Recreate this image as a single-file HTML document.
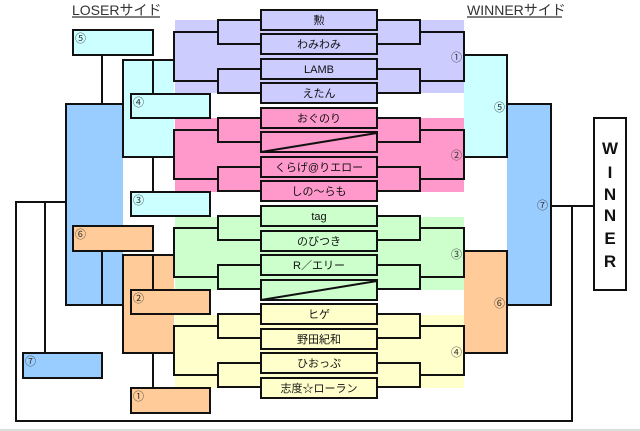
<!DOCTYPE html>
<html><head><meta charset="utf-8"><style>
html,body{margin:0;padding:0;background:#fff;width:640px;height:431px;overflow:hidden}
svg{display:block}
text{font-family:"Liberation Sans","Noto Sans CJK JP",sans-serif}
</style></head><body>
<svg width="640" height="431" viewBox="0 0 640 431" xmlns="http://www.w3.org/2000/svg">
<rect x="175" y="20" width="289" height="73" fill="#ccccff"/>
<rect x="175" y="118" width="289" height="74" fill="#ff99cc"/>
<rect x="175" y="217" width="289" height="73" fill="#ccffcc"/>
<rect x="175" y="315" width="289" height="73" fill="#ffffcc"/>
<rect x="66" y="104" width="57" height="201" fill="#99ccff"/>
<rect x="123" y="60" width="51" height="97" fill="#ccffff"/>
<rect x="123" y="255" width="51" height="98" fill="#ffcc99"/>
<rect x="464" y="55" width="43" height="102" fill="#ccffff"/>
<rect x="464" y="251" width="43" height="102" fill="#ffcc99"/>
<rect x="507" y="104" width="44" height="201" fill="#99ccff"/>
<g stroke="#111" stroke-width="2" fill="none">
<polyline points="123,104 66,104 66,305 123,305"/>
<line x1="102" y1="55" x2="102" y2="104"/>
<line x1="102" y1="251" x2="102" y2="305"/>
<polyline points="174,60 123,60 123,157 174,157"/>
<line x1="153" y1="60" x2="153" y2="94"/>
<line x1="153" y1="157" x2="153" y2="192"/>
<polyline points="174,255 123,255 123,353 174,353"/>
<line x1="153" y1="255" x2="153" y2="290"/>
<line x1="153" y1="353" x2="153" y2="388"/>
<polyline points="464,55 507,55 507,157 464,157"/>
<polyline points="464,251 507,251 507,353 464,353"/>
<polyline points="507,104 551,104 551,305 507,305"/>
<line x1="551" y1="206" x2="594" y2="206"/>
<polyline points="572,206 572,421 16,421 16,202 66,202"/>
<line x1="45" y1="202" x2="45" y2="353"/>
<g id="br">
<polyline points="261,20 218,20 218,44 261,44"/>
<polyline points="261,69 218,69 218,93 261,93"/>
<polyline points="218,32 174,32 174,81 218,81"/>
<polyline points="377,20 420,20 420,44 377,44"/>
<polyline points="377,69 420,69 420,93 377,93"/>
<polyline points="420,32 464,32 464,81 420,81"/>
</g>
<use href="#br" y="98"/>
<use href="#br" y="196"/>
<use href="#br" y="294"/>
</g>
<g stroke="#111" stroke-width="2">
<rect x="261" y="10" width="116" height="20" fill="#ccccff"/>
<rect x="261" y="34" width="116" height="20" fill="#ccccff"/>
<rect x="261" y="59" width="116" height="20" fill="#ccccff"/>
<rect x="261" y="83" width="116" height="20" fill="#ccccff"/>
<rect x="261" y="108" width="116" height="20" fill="#ff99cc"/>
<rect x="261" y="132" width="116" height="20" fill="#ff99cc"/>
<rect x="261" y="157" width="116" height="20" fill="#ff99cc"/>
<rect x="261" y="181" width="116" height="20" fill="#ff99cc"/>
<rect x="261" y="206" width="116" height="20" fill="#ccffcc"/>
<rect x="261" y="231" width="116" height="20" fill="#ccffcc"/>
<rect x="261" y="255" width="116" height="20" fill="#ccffcc"/>
<rect x="261" y="280" width="116" height="20" fill="#ccffcc"/>
<rect x="261" y="304" width="116" height="20" fill="#ffffcc"/>
<rect x="261" y="329" width="116" height="20" fill="#ffffcc"/>
<rect x="261" y="353" width="116" height="20" fill="#ffffcc"/>
<rect x="261" y="378" width="116" height="20" fill="#ffffcc"/>
<line x1="261" y1="152" x2="377" y2="133"/>
<line x1="261" y1="300" x2="377" y2="281"/>
<rect x="73" y="30" width="80" height="25" fill="#ccffff"/>
<rect x="131" y="94" width="79" height="24" fill="#ccffff"/>
<rect x="131" y="192" width="79" height="24" fill="#ccffff"/>
<rect x="73" y="226" width="80" height="25" fill="#ffcc99"/>
<rect x="131" y="290" width="79" height="24" fill="#ffcc99"/>
<rect x="131" y="388" width="79" height="25" fill="#ffcc99"/>
<rect x="23" y="353" width="79" height="25" fill="#99ccff"/>
<rect x="594" y="118" width="32" height="172" fill="#fff"/>
</g>
<g font-size="11" text-anchor="middle" fill="#111">
<text x="319" y="24">勲</text>
<text x="319" y="48">わみわみ</text>
<text x="319" y="73">LAMB</text>
<text x="319" y="97">えたん</text>
<text x="319" y="122">おぐのり</text>
<text x="319" y="171">くらげ@りエロー</text>
<text x="319" y="195">しの～らも</text>
<text x="319" y="220">tag</text>
<text x="319" y="245">のびつき</text>
<text x="319" y="269">R／エリー</text>
<text x="319" y="318">ヒゲ</text>
<text x="319" y="343">野田紀和</text>
<text x="319" y="367">ひおっぷ</text>
<text x="319" y="392">志度☆ローラン</text>
</g>
<g font-size="11" fill="#333">
<text x="75" y="42">⑤</text>
<text x="133" y="106">④</text>
<text x="133" y="204">③</text>
<text x="75" y="238">⑥</text>
<text x="133" y="302">②</text>
<text x="133" y="400">①</text>
<text x="25" y="365">⑦</text>
<text x="451" y="61">①</text>
<text x="451" y="159">②</text>
<text x="451" y="258">③</text>
<text x="451" y="356">④</text>
<text x="494" y="111">⑤</text>
<text x="494" y="307">⑥</text>
<text x="537" y="209">⑦</text>
</g>
<g font-size="14" fill="#333">
<text x="72" y="15">LOSERサイド</text>
<text x="467" y="15">WINNERサイド</text>
</g>
<line x1="72" y1="17" x2="160" y2="17" stroke="#555" stroke-width="1.5"/>
<line x1="467" y1="17" x2="562" y2="17" stroke="#555" stroke-width="1.5"/>
<g font-size="17" font-weight="bold" text-anchor="middle" fill="#111">
<text x="610" y="154">W</text>
<text x="610" y="178">I</text>
<text x="610" y="200">N</text>
<text x="610" y="221">N</text>
<text x="610" y="244">E</text>
<text x="610" y="267">R</text>
</g>
<rect x="0" y="429" width="640" height="2" fill="#ddd"/>
</svg>
</body></html>
